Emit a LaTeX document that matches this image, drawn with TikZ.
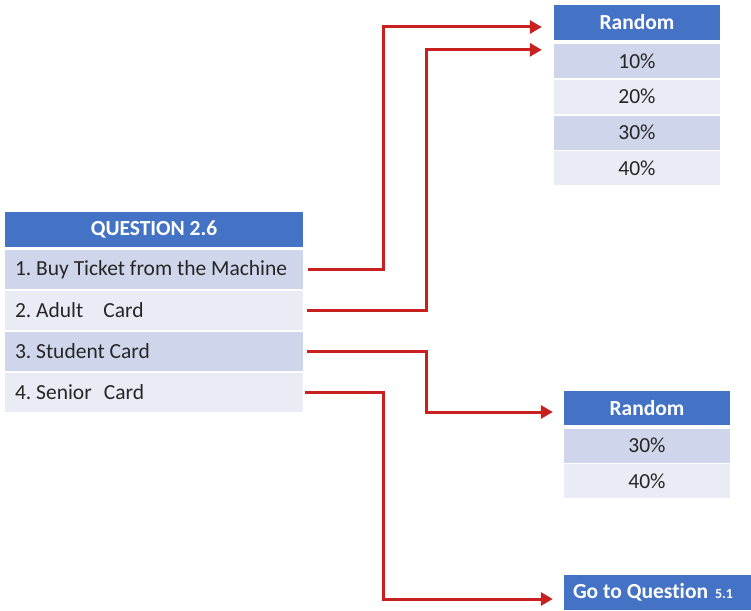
\documentclass[tikz,border=0pt]{standalone}
\usepackage{fontspec}
\setmainfont{Carlito}[Ligatures=NoCommon]
\usetikzlibrary{arrows.meta}

\definecolor{hdrblue}{HTML}{4472C4}
\definecolor{rowdark}{HTML}{CFD5EA}
\definecolor{rowlight}{HTML}{E9EBF5}
\definecolor{linkred}{HTML}{C8201E}
\definecolor{txtgray}{HTML}{262626}

\newcommand{\lefttext}[1]{\makebox[278pt][l]{#1}}

\tikzset{
  cell/.style={rectangle, inner sep=0pt, minimum height=#1, text=txtgray,
    font=\fontsize{21.5}{24}\selectfont},
  cell/.default=39pt,
  hdr/.style={cell=#1, fill=hdrblue, text=white,
    font=\fontsize{21.5}{24}\selectfont\bfseries},
  hdr/.default=35pt,
  dark/.style={fill=rowdark},
  light/.style={fill=rowlight},
  lefttab/.style={minimum width=298pt},
  righttab/.style={minimum width=166pt},
  arr/.style={draw=linkred, line width=3pt,
    -{Triangle[length=12pt,width=13pt]}},
}

\begin{document}
\frenchspacing
\begin{tikzpicture}[x=1pt,y=-1pt]
\useasboundingbox (0,0) rectangle (751,610);

% question table
\node[hdr, lefttab] (qh) at (154,229.5) {QUESTION 2.6};
\node[cell, lefttab, dark]  (q1) at (154,269.5) {\lefttext{1. Buy Ticket from the Machine}};
\node[cell, lefttab, light] (q2) at (154,310.5) {\lefttext{2. Adult\hspace{20pt}Card}};
\node[cell, lefttab, dark]  (q3) at (154,351.5) {\lefttext{3. Student Card}};
\node[cell, lefttab, light] (q4) at (154,392.5) {\lefttext{4. Senior\hspace{12pt}Card}};

% upper random table
\node[hdr, righttab] (t0) at (637,22.5) {Random};
\node[cell=34pt, righttab, dark]  (t1) at (637,61)    {10\%};
\node[cell=34pt, righttab, light] (t2) at (637,96.5)  {20\%};
\node[cell=34pt, righttab, dark]  (t3) at (637,132.5) {30\%};
\node[cell=34pt, righttab, light] (t4) at (637,168)   {40\%};

% lower random table
\node[hdr=34pt, righttab] (m0) at (647,408) {Random};
\node[cell=34pt, righttab, dark]  (m1) at (647,445.5) {30\%};
\node[cell=34pt, righttab, light] (m2) at (647,481)   {40\%};

% jump box
\node[hdr, minimum width=187pt] (go) at (657.5,592.5)
  {\makebox[169pt][l]{Go to Question\hspace{7pt}{\fontsize{14}{16}\selectfont 5.1}}};

% connectors
\draw[arr] ([xshift=5pt]q1.east) -- ++(75pt,0) |- ([xshift=-12pt,yshift=-4.5pt]t0.west);
\draw[arr] ([xshift=4pt]q2.east) -- ++(119pt,0) |- ([xshift=-12pt,yshift=-6pt]t1.north west);
\draw[arr] ([xshift=4pt]q3.east) -- ++(119pt,0) |- ([xshift=-11pt,yshift=-4pt]m0.west);
\draw[arr] ([xshift=2pt]q4.east) -- ++(78pt,0) |- ([xshift=-11pt,yshift=-6.5pt]go.west);
\end{tikzpicture}
\end{document}
